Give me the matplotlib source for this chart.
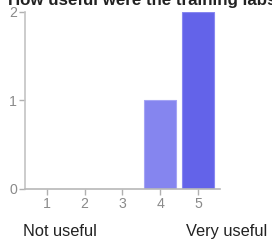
import matplotlib
matplotlib.use("Agg")
import matplotlib.pyplot as plt

# Survey answers: rating 1..5 and how many people picked each
ratings = [1, 2, 3, 4, 5]
counts = [0, 0, 0, 1, 2]
bar_colors = ['#8585ef', '#8585ef', '#8585ef', '#8585ef', '#6363e9']
edge_colors = ['#a4a4f4', '#a4a4f4', '#a4a4f4', '#a4a4f4', '#8888f0']
yticks = [0, 1, 2]
title = "How useful were the training labs?"
low_label = "Not useful"
high_label = "Very useful"

plt.rcParams['font.family'] = ['Liberation Sans', 'DejaVu Sans']

fig = plt.figure(figsize=(2.72, 2.42), dpi=100)
ax = fig.add_axes([24.5/272, 1 - 189/242, (220 - 24.5)/272, (189 - 11.5)/242])

ax.bar(ratings, counts, width=0.85, color=bar_colors, edgecolor=edge_colors,
       linewidth=0.8, zorder=2)

ax.set_xlim(0.41, 5.58)
ax.set_ylim(0, 2)
ax.set_xticks(ratings)
ax.set_yticks(yticks)

for side in ['top', 'right']:
    ax.spines[side].set_visible(False)
ax.spines['left'].set_color('#c4c4c4')
ax.spines['bottom'].set_color('#b8b8b8')
ax.spines['left'].set_linewidth(1.2)
ax.spines['bottom'].set_linewidth(1.2)

ax.tick_params(axis='both', colors='#b0b0b0', labelcolor='#8a8a8a',
               labelsize=10.2, length=4, width=1)
ax.tick_params(axis='y', pad=1.5)
ax.tick_params(axis='x', pad=2)

# the title runs off the top and right edge, as in the original image
fig.text(8/272, 1 - 5.5/242, title, fontsize=12.2, fontweight='bold',
         color='#222222', va='baseline', ha='left')
fig.text(23/272, 1 - 236/242, low_label, fontsize=11.8, color='#222222',
         va='baseline', ha='left')
fig.text(186/272, 1 - 236/242, high_label, fontsize=11.8, color='#222222',
         va='baseline', ha='left')

fig.savefig("out.png", dpi=100)
